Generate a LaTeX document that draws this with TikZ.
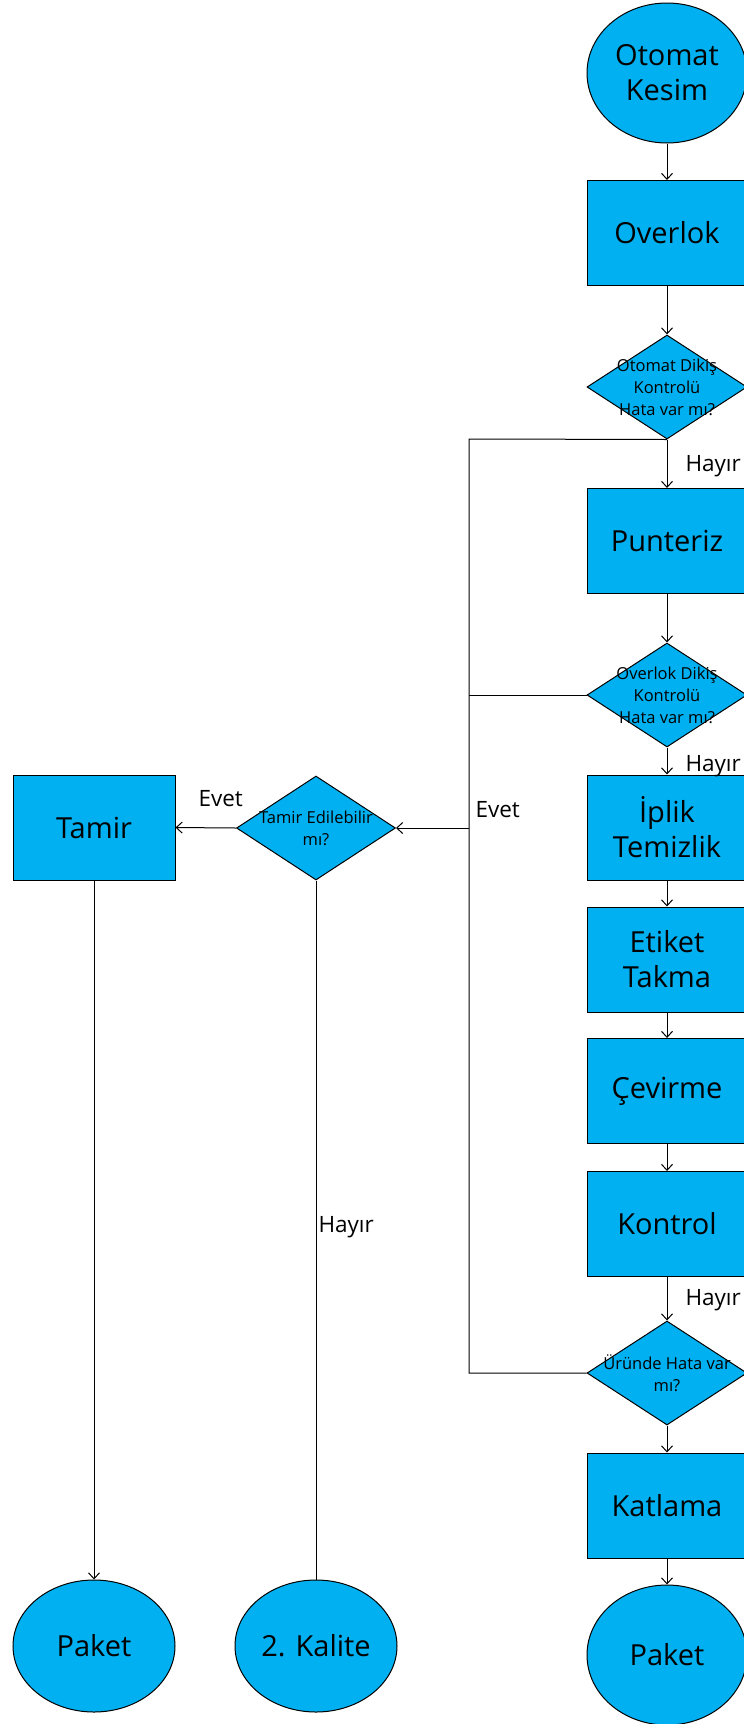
\documentclass[tikz,border=0pt]{standalone}
\usepackage{fontspec}
\setmainfont{Open Sans}
\usepackage{tikz}
\usetikzlibrary{shapes.geometric,arrows.meta}
\definecolor{akis}{HTML}{00B0F0}

\begin{document}
\begin{tikzpicture}[x=1pt,y=-1pt,
    kutu/.style={draw,fill=akis,minimum width=160pt,minimum height=105pt,inner sep=0pt,
      align=center,font=\fontsize{29}{35}\selectfont},
    yuvarlak/.style={draw,fill=akis,ellipse,minimum width=160pt,minimum height=140pt,inner sep=0pt,
      align=center,font=\fontsize{29}{35}\selectfont},
    karar/.style={draw,fill=akis,diamond,minimum width=160pt,minimum height=104pt,inner sep=0pt},
    soru/.style={align=center,font=\fontsize{16.5}{22}\selectfont},
    cevap/.style={anchor=base west,inner sep=0pt,font=\fontsize{22.5}{26}\selectfont},
    ok/.style={-{Straight Barb[length=6pt,width=11pt]}},
    line width=1pt]
    \useasboundingbox (0,0) rectangle (744,1724);

    % ana hat
    \node[yuvarlak] (kesim) at (667,73) {Otomat\\Kesim};
    \node[kutu] (overlok) at (667,233) {Overlok};
    \node[karar,label={[soru]center:Otomat Dikiş\\Kontrolü\\Hata var mı?}] (dikis1) at (667,387) {};
    \node[kutu] (punteriz) at (667,541) {Punteriz};
    \node[karar,label={[soru]center:Overlok Dikiş\\Kontrolü\\Hata var mı?}] (dikis2) at (667,695) {};
    \node[kutu] (iplik) at (667,827.5) {İplik\\Temizlik};
    \node[kutu] (etiket) at (667,959.5) {Etiket\\Takma};
    \node[kutu] (cevirme) at (667,1091) {Çevirme};
    \node[kutu] (kontrol) at (667,1224) {Kontrol};
    \node[karar,label={[soru]center:Üründe Hata var\\mı?}] (hata) at (667,1373) {};
    \node[kutu] (katlama) at (667,1505.5) {Katlama};
    \node[yuvarlak] (paket3) at (667,1655) {Paket};

    % tamir kolu
    \node[karar,minimum width=159pt,label={[soru]center:Tamir Edilebilir\\mı?}] (tamirsor) at (316,828) {};
    \node[kutu,minimum width=162pt] (tamir) at (94,827.5) {Tamir};
    \node[yuvarlak,minimum width=162pt,minimum height=132pt] (paket1) at (94,1646) {Paket};
    \node[yuvarlak,minimum width=162pt,minimum height=132pt] (kalite) at (316,1646) {2. Kalite};

    \coordinate (hat1) at (469,439);
    \coordinate (hat2) at (469,695);
    \coordinate (hat3) at (469,828);
    \coordinate (hat4) at (469,1373);

    \draw[ok] (kesim.south) -- (overlok.north);
    \draw[ok] (overlok.south) -- (dikis1.north);
    \draw[ok] (dikis1.south) -- (punteriz.north);
    \draw[ok] (punteriz.south) -- (dikis2.north);
    \draw[ok] (dikis2.south) -- (iplik.north);
    \draw[ok] (iplik.south) -- (etiket.north);
    \draw[ok] (etiket.south) -- (cevirme.north);
    \draw[ok] (cevirme.south) -- (kontrol.north);
    \draw[ok] (kontrol.south) -- (hata.north);
    \draw[ok] (hata.south) -- (katlama.north);
    \draw[ok] (katlama.south) -- (paket3.north);

    \draw (dikis1.south) -- (hat1) -- (hat4) -- (hata.west);
    \draw (dikis2.west) -- (hat2);
    \draw[ok] (hat3) -- (tamirsor.east);
    \draw[ok] (tamirsor.west) -- (tamir.east);
    \draw[ok] (tamir.south) -- (paket1.north);
    \draw (tamirsor.south) -- (kalite.north);

    \node[cevap] (hayir1) at (685,471) {Hayır};
    \node[cevap] (hayir2) at (685,771) {Hayır};
    \node[cevap] (hayir3) at (685,1305) {Hayır};
    \node[cevap] (evet1) at (475,817) {Evet};
    \node[cevap] (evet2) at (198,806) {Evet};
    \node[cevap] (hayir4) at (318,1232) {Hayır};
\end{tikzpicture}
\end{document}
